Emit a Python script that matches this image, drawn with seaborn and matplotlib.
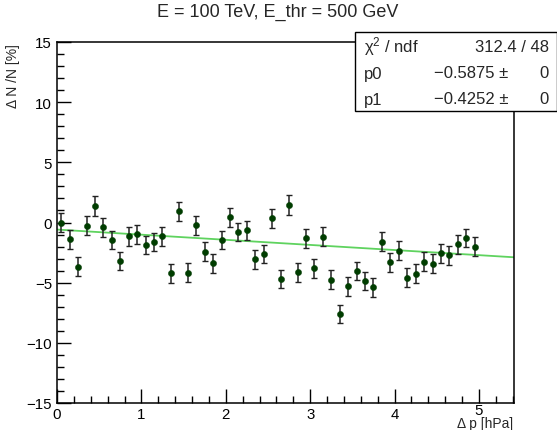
import numpy as np
import pandas as pd
import matplotlib
matplotlib.use("Agg")
import matplotlib.pyplot as plt
import matplotlib.transforms as mtransforms
from matplotlib.ticker import MultipleLocator
import seaborn as sns

# ---- data ----
dp = [0.05, 0.15, 0.25, 0.35, 0.45, 0.55, 0.65, 0.75, 0.85, 0.95,
      1.05, 1.15, 1.25, 1.35, 1.45, 1.55, 1.65, 1.75, 1.85, 1.95,
      2.05, 2.15, 2.25, 2.35, 2.45, 2.55, 2.65, 2.75, 2.85, 2.95,
      3.05, 3.15, 3.25, 3.35, 3.45, 3.55, 3.65, 3.75, 3.85, 3.95,
      4.05, 4.15, 4.25, 4.35, 4.45, 4.55, 4.65, 4.75, 4.85, 4.95]
dn = [-0.02, -1.40, -3.67, -0.27, 1.37, -0.40, -1.46, -3.20, -1.15, -0.98,
      -1.87, -1.62, -1.15, -4.22, 0.93, -4.17, -0.23, -2.43, -3.39, -1.46,
      0.43, -0.79, -0.65, -3.06, -2.62, 0.35, -4.70, 1.45, -4.13, -1.32,
      -3.81, -1.18, -4.75, -7.61, -5.31, -4.03, -4.86, -5.39, -1.59, -3.31,
      -2.34, -4.58, -4.25, -3.26, -3.42, -2.56, -2.73, -1.81, -1.29, -2.01]
err = [0.78, 0.78, 0.78, 0.78, 0.80, 0.78, 0.78, 0.78, 0.78, 0.78,
       0.78, 0.78, 0.78, 0.78, 0.80, 0.78, 0.78, 0.78, 0.78, 0.78,
       0.78, 0.78, 0.78, 0.78, 0.78, 0.78, 0.78, 0.80, 0.78, 0.78,
       0.78, 0.78, 0.78, 0.78, 0.78, 0.78, 0.78, 0.78, 0.78, 0.78,
       0.78, 0.78, 0.78, 0.78, 0.78, 0.78, 0.78, 0.78, 0.78, 0.78]
p0 = -0.5875
p1 = -0.4252
chi2_txt = "312.4 / 48"
x_fit = [0.0, 5.415]

x_ticks = [0, 1, 2, 3, 4, 5]
x_ticklabels = ["0", "1", "2", "3", "4", "5"]
y_ticks = [-15, -10, -5, 0, 5, 10, 15]
y_ticklabels = ["\u221215", "\u221210", "\u22125", "0", "5", "10", "15"]

title = "E = 100 TeV, E_thr = 500 GeV"
xlabel = "Δ p [hPa]"
ylabel = "Δ N /N [%]"

df = pd.DataFrame({"dp": dp, "dn": dn, "err": err})
fit_df = pd.DataFrame({"x": x_fit, "y": [p0 + p1 * v for v in x_fit]})

sns.set_theme(style="white")
plt.rcParams["font.family"] = ["Liberation Sans", "DejaVu Sans"]
plt.rcParams["mathtext.default"] = "regular"
plt.rcParams["xtick.bottom"] = True
plt.rcParams["ytick.left"] = True

W, H = 557, 431
fig = plt.figure(figsize=(W / 100, H / 100), dpi=100)
ax = fig.add_axes([57 / W, 1 - 404 / H, (514 - 57) / W, (404 - 43) / H])

# fit line
sns.lineplot(data=fit_df, x="x", y="y", ax=ax, color="#5fd35f", lw=1.3, zorder=2)
# error bars
ax.errorbar(df["dp"], df["dn"], yerr=df["err"], fmt="none", ecolor="#222222",
            elinewidth=1.1, capsize=2.2, capthick=1.0, zorder=3)
# markers
sns.scatterplot(data=df, x="dp", y="dn", ax=ax, color="#003d00", s=20,
                edgecolor="#003d00", linewidth=0.3, zorder=4)

ax.set_xlim(0, 5.415)
ax.set_ylim(-15, 15)
ax.set_xticks(x_ticks)
ax.set_xticklabels(x_ticklabels)
ax.set_yticks(y_ticks)
ax.set_yticklabels(y_ticklabels)
ax.xaxis.set_minor_locator(MultipleLocator(0.2))
ax.yaxis.set_minor_locator(MultipleLocator(1))
ax.tick_params(axis="both", which="both", direction="in", top=False, right=False,
               bottom=True, left=True, colors="black", labelsize=10.8, width=1.0)
ax.tick_params(axis="both", which="major", length=10)
ax.tick_params(axis="both", which="minor", length=5)
ax.tick_params(axis="x", which="major", pad=3)
ax.tick_params(axis="y", which="major", pad=3.6)
for sp in ax.spines.values():
    sp.set_color("black")
    sp.set_linewidth(1.1)

# raise the '5' tick label a bit like ROOT does
for lab in ax.get_xticklabels():
    if lab.get_text() == "5":
        lab.set_transform(lab.get_transform() + mtransforms.Affine2D().translate(0, 4))

ax.set_xlabel("")
ax.set_ylabel("")
fig.text(513 / W, 1 - 424 / H, xlabel, ha="right", va="center", fontsize=10)
fig.text(13 / W, 1 - 44 / H, ylabel, ha="center", va="top", rotation=90, fontsize=10)
fig.text(278 / W, 1 - 12 / H, title, ha="center", va="center", fontsize=13)

# stats box
bx0, by0, bx1, by1 = 355, 33, 557, 112
rect = plt.Rectangle((bx0 / W, 1 - by1 / H), (bx1 - bx0) / W, (by1 - by0) / H,
                     transform=fig.transFigure, facecolor="white", edgecolor="black",
                     linewidth=1.0, zorder=10)
fig.patches.append(rect)
rows = [("\u03c7$^{2}$ / ndf", chi2_txt, None),
        ("p0", "\u22120.5875 \u00b1", "0"),
        ("p1", "\u22120.4252 \u00b1", "0")]
ys = [47, 74, 100]
fs = 12
for (name, val, e), yy in zip(rows, ys):
    fig.text(364 / W, 1 - yy / H, name, ha="left", va="center", fontsize=fs, zorder=11)
    if e is None:
        fig.text(549 / W, 1 - yy / H, val, ha="right", va="center", fontsize=fs, zorder=11)
    else:
        fig.text(508 / W, 1 - yy / H, val, ha="right", va="center", fontsize=fs, zorder=11)
        fig.text(549 / W, 1 - yy / H, e, ha="right", va="center", fontsize=fs, zorder=11)

fig.savefig("out.png", dpi=100, facecolor="white")
